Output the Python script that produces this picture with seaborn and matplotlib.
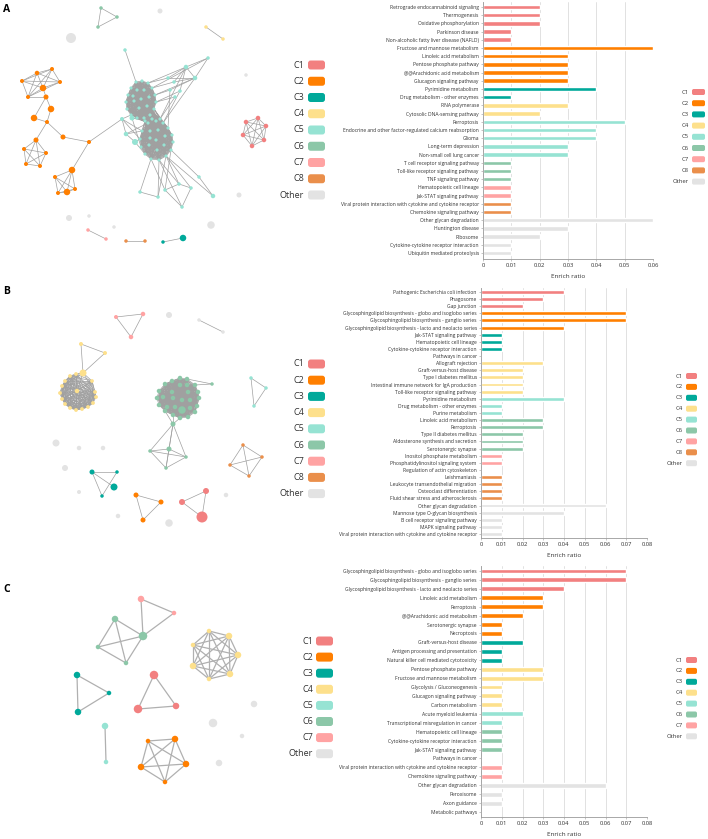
import numpy as np
import pandas as pd
import seaborn as sns
import matplotlib.pyplot as plt
from matplotlib.collections import LineCollection
from matplotlib.patches import FancyBboxPatch
from itertools import combinations

sns.set_theme(style="white")
plt.rcParams['font.family'] = ['Open Sans', 'DejaVu Sans']

W, H = 708, 839

# cluster colours
pal = {'C1': '#F28080', 'C2': '#FF7F00', 'C3': '#00A99A', 'C4': '#FDE08C',
       'C5': '#96E3D3', 'C6': '#8CC7A8', 'C7': '#FFA3A3', 'C8': '#EA8F4B',
       'Other': '#E3E3E3'}

# ---------------- bar chart data ----------------
a_terms = ["Retrograde endocannabinoid signaling", "Thermogenesis", "Oxidative phosphorylation",
           "Parkinson disease", "Non-alcoholic fatty liver disease (NAFLD)",
           "Fructose and mannose metabolism", "Linoleic acid metabolism", "Pentose phosphate pathway",
           "@@Arachidonic acid metabolism", "Glucagon signaling pathway",
           "Pyrimidine metabolism", "Drug metabolism - other enzymes",
           "RNA polymerase", "Cytosolic DNA-sensing pathway",
           "Ferroptosis", "Endocrine and other factor-regulated calcium reabsorption", "Glioma",
           "Long-term depression", "Non-small cell lung cancer",
           "T cell receptor signaling pathway", "Toll-like receptor signaling pathway", "TNF signaling pathway",
           "Hematopoietic cell lineage", "Jak-STAT signaling pathway",
           "Viral protein interaction with cytokine and cytokine receptor", "Chemokine signaling pathway",
           "Other glycan degradation", "Huntington disease", "Ribosome",
           "Cytokine-cytokine receptor interaction", "Ubiquitin mediated proteolysis"]
a_ratio = [0.02, 0.02, 0.02, 0.01, 0.01,
           0.06, 0.03, 0.03, 0.03, 0.03,
           0.04, 0.01,
           0.03, 0.02,
           0.05, 0.04, 0.04, 0.03, 0.03,
           0.01, 0.01, 0.01,
           0.01, 0.01,
           0.01, 0.01,
           0.06, 0.03, 0.02, 0.01, 0.01]
a_cluster = (["C1"] * 5 + ["C2"] * 5 + ["C3"] * 2 + ["C4"] * 2 + ["C5"] * 5
             + ["C6"] * 3 + ["C7"] * 2 + ["C8"] * 2 + ["Other"] * 5)

b_terms = ["Pathogenic Escherichia coli infection", "Phagosome", "Gap junction",
           "Glycosphingolipid biosynthesis - globo and isoglobo series",
           "Glycosphingolipid biosynthesis - ganglio series",
           "Glycosphingolipid biosynthesis - lacto and neolacto series",
           "Jak-STAT signaling pathway", "Hematopoietic cell lineage",
           "Cytokine-cytokine receptor interaction", "Pathways in cancer",
           "Allograft rejection", "Graft-versus-host disease", "Type I diabetes mellitus",
           "Intestinal immune network for IgA production", "Toll-like receptor signaling pathway",
           "Pyrimidine metabolism", "Drug metabolism - other enzymes", "Purine metabolism",
           "Linoleic acid metabolism", "Ferroptosis", "Type II diabetes mellitus",
           "Aldosterone synthesis and secretion", "Serotonergic synapse",
           "Inositol phosphate metabolism", "Phosphatidylinositol signaling system",
           "Regulation of actin cytoskeleton", "Leishmaniasis",
           "Leukocyte transendothelial migration", "Osteoclast differentiation",
           "Fluid shear stress and atherosclerosis",
           "Other glycan degradation", "Mannose type O-glycan biosynthesis",
           "B cell receptor signaling pathway", "MAPK signaling pathway",
           "Viral protein interaction with cytokine and cytokine receptor"]
b_ratio = [0.04, 0.03, 0.02,
           0.07, 0.07, 0.04,
           0.01, 0.01, 0.01, 0.0,
           0.03, 0.02, 0.02, 0.02, 0.02,
           0.04, 0.01, 0.01,
           0.03, 0.03, 0.02, 0.02, 0.02,
           0.01, 0.01,
           0.0, 0.01, 0.01, 0.01, 0.01,
           0.06, 0.04, 0.01, 0.01, 0.01]
b_cluster = (["C1"] * 3 + ["C2"] * 3 + ["C3"] * 4 + ["C4"] * 5 + ["C5"] * 3
             + ["C6"] * 5 + ["C7"] * 2 + ["C8"] * 5 + ["Other"] * 5)

c_terms = ["Glycosphingolipid biosynthesis - globo and isoglobo series",
           "Glycosphingolipid biosynthesis - ganglio series",
           "Glycosphingolipid biosynthesis - lacto and neolacto series",
           "Linoleic acid metabolism", "Ferroptosis", "@@Arachidonic acid metabolism",
           "Serotonergic synapse", "Necroptosis",
           "Graft-versus-host disease", "Antigen processing and presentation",
           "Natural killer cell mediated cytotoxicity",
           "Pentose phosphate pathway", "Fructose and mannose metabolism",
           "Glycolysis / Gluconeogenesis", "Glucagon signaling pathway", "Carbon metabolism",
           "Acute myeloid leukemia", "Transcriptional misregulation in cancer",
           "Hematopoietic cell lineage", "Cytokine-cytokine receptor interaction",
           "Jak-STAT signaling pathway", "Pathways in cancer",
           "Viral protein interaction with cytokine and cytokine receptor",
           "Chemokine signaling pathway",
           "Other glycan degradation", "Peroxisome", "Axon guidance", "Metabolic pathways"]
c_ratio = [0.07, 0.07, 0.04,
           0.03, 0.03, 0.02, 0.01, 0.01,
           0.02, 0.01, 0.01,
           0.03, 0.03, 0.01, 0.01, 0.01,
           0.02, 0.01,
           0.01, 0.01, 0.01, 0.0,
           0.01, 0.01,
           0.06, 0.01, 0.01, 0.0]
c_cluster = (["C1"] * 3 + ["C2"] * 5 + ["C3"] * 3 + ["C4"] * 5 + ["C5"] * 2
             + ["C6"] * 4 + ["C7"] * 2 + ["Other"] * 4)

# ---------------- network data (x, y, node diameter in px) ----------------
# groups: (cluster, fully connected?, nodes)
a_ball1 = [(136, 82), (142, 81), (148, 83), (152, 88), (155, 95), (156, 102), (154, 109),
           (150, 115), (144, 118), (137, 118), (131, 115), (127, 109), (126, 102), (128, 95),
           (131, 88), (137, 90), (144, 90), (149, 97), (141, 99), (134, 101), (139, 108),
           (147, 106), (133, 96)]
a_ball2 = [(145, 121), (152, 119), (160, 119), (148, 123), (156, 121), (163, 123), (168, 128),
           (172, 135), (173, 142), (171, 150), (166, 156), (159, 160), (151, 159), (145, 154),
           (141, 147), (140, 139), (142, 131), (150, 131), (158, 130), (165, 136), (164, 145),
           (157, 150), (149, 145), (156, 140), (150, 138)]
a_groups = [
    ('C2', True, [(37, 73, 4.5), (52, 69, 4), (60, 82, 4), (43, 88, 6.5), (22, 81, 4), (28, 97, 4)]),
    ('C2', False, [(46, 97, 5), (51, 109, 6.5), (34, 118, 6.5), (47, 122, 4), (63, 137, 5), (89, 142, 4)]),
    ('C2', True, [(36, 140, 5), (24, 149, 4), (46, 153, 4), (26, 164, 4), (40, 166, 4)]),
    ('C2', True, [(72, 170, 6.5), (55, 177, 4), (75, 189, 4), (67, 192, 6.5), (58, 193, 4)]),
    ('C5', True, [(x, y, 3.2) for x, y in a_ball1]),
    ('C5', True, [(x, y, 3.2) for x, y in a_ball2]),
    ('C5', False, [(125, 50, 3.5), (208, 58, 3.5), (186, 67, 4.5), (195, 78, 4.5), (168, 78, 3.5),
                   (174, 82, 3.5), (180, 91, 3.5), (170, 90, 3.5), (175, 97, 3.5),
                   (122, 119, 4), (132, 118, 5), (126, 134, 4.5), (135, 142, 6),
                   (140, 192, 3.5), (158, 197, 3.5), (165, 190, 3.5), (179, 184, 3.5),
                   (191, 188, 3.5), (199, 177, 3.5), (182, 207, 3.5), (213, 196, 4.5)]),
    ('C1', True, [(246, 122, 4.5), (258, 118, 4.5), (243, 135, 4.5), (252, 146, 4.5),
                  (264, 140, 4.5), (266, 126, 4.5)]),
    ('C6', True, [(101, 8, 3.5), (117, 17, 3.5), (98, 27, 3.5)]),
    ('C4', True, [(206, 27, 3.5), (223, 39, 3.5)]),
    ('C7', True, [(88, 230, 3.5), (106, 239, 3.5)]),
    ('C8', True, [(126, 241, 3.5), (145, 241, 3.5)]),
    ('C3', True, [(163, 242, 3.5), (183, 238, 6.5)]),
    ('Other', False, [(160, 11, 5), (71, 38, 10), (246, 75, 3.5), (239, 195, 5), (69, 218, 6),
                      (89, 216, 3.5), (114, 227, 3.5), (211, 225, 7.5)]),
]
a_links = [((43, 88), (46, 97)), ((28, 97), (46, 97)), ((46, 97), (51, 109)), ((46, 97), (34, 118)),
           ((34, 118), (47, 122)), ((51, 109), (47, 122)), ((47, 122), (36, 140)),
           ((47, 122), (63, 137)), ((63, 137), (89, 142)), ((89, 142), (72, 170)),
           ((89, 142), (122, 119)), ((125, 50), (136, 82)),
           ((208, 58), (186, 67)), ((208, 58), (195, 78)), ((186, 67), (195, 78)), ((186, 67), (168, 78)),
           ((186, 67), (174, 82)), ((186, 67), (180, 91)), ((195, 78), (174, 82)), ((195, 78), (170, 90)),
           ((195, 78), (168, 78)), ((168, 78), (148, 83)), ((174, 82), (152, 88)), ((170, 90), (155, 95)),
           ((175, 97), (156, 102)), ((180, 91), (156, 102)), ((186, 67), (148, 83)), ((195, 78), (155, 95)),
           ((175, 97), (160, 119)), ((180, 91), (163, 123)), ((170, 90), (168, 128)), ((208, 58), (152, 88)),
           ((195, 78), (163, 123)), ((186, 67), (160, 119)),
           ((122, 119), (142, 131)), ((122, 119), (140, 139)), ((132, 118), (145, 121)),
           ((132, 118), (141, 147)), ((126, 134), (142, 131)), ((126, 134), (148, 123)),
           ((135, 142), (140, 139)), ((135, 142), (145, 154)), ((126, 134), (135, 142)),
           ((122, 119), (126, 134)), ((122, 119), (131, 115)), ((132, 118), (137, 118)),
           ((140, 192), (158, 197)), ((140, 192), (151, 159)), ((158, 197), (159, 160)),
           ((165, 190), (151, 159)), ((165, 190), (179, 184)), ((179, 184), (159, 160)),
           ((179, 184), (166, 156)), ((191, 188), (166, 156)), ((191, 188), (182, 207)),
           ((191, 188), (179, 184)), ((199, 177), (171, 150)), ((199, 177), (213, 196)),
           ((213, 196), (166, 156)), ((182, 207), (165, 190)), ((182, 207), (159, 160)),
           ((165, 190), (171, 150)), ((158, 197), (166, 156))]
# bundle between the two big C5 balls
a_links += [(p, q) for p in a_ball1[6:12] + a_ball1[18:23] for q in a_ball2[:8]]

b_ball_c4 = [(70, 91), (62, 101), (62, 114), (70, 123), (82, 124), (93, 118), (95, 107),
             (92, 96), (83, 88), (76, 89), (65, 96), (60, 108), (65, 119), (76, 125), (88, 122),
             (96, 112), (77, 106)]
b_ball_c6 = [(180, 93), (187, 94), (172, 96), (165, 99), (195, 100), (159, 106), (198, 107),
             (157, 113), (199, 113), (159, 120), (197, 121), (165, 126), (195, 127), (173, 130),
             (188, 132), (180, 133), (172, 107), (180, 100), (188, 107), (163, 112), (173, 113),
             (182, 115), (190, 115), (167, 122), (175, 122), (182, 125), (190, 123), (187, 100)]
b_groups = [
    ('C7', True, [(116, 32, 4), (143, 29, 4.5), (131, 52, 4.5)]),
    ('C4', True, [(81, 59, 4), (105, 68, 4), (83, 88, 7)]),
    ('C4', True, [(x, y, 4.5 if (x, y) == (77, 106) else 3.8) for x, y in b_ball_c4 if (x, y) != (83, 88)]),
    ('C6', True, [(x, y, 7.5 if (x, y) == (182, 125) else 4.5) for x, y in b_ball_c6]),
    ('C6', False, [(212, 99, 3.5), (173, 139, 5)]),
    ('C6', True, [(150, 166, 3.5), (169, 164, 5), (186, 172, 3.5), (166, 183, 3.5)]),
    ('C5', True, [(251, 93, 3.5), (254, 121, 3.5), (266, 103, 3.5)]),
    ('C8', True, [(243, 160, 3.5), (230, 180, 3.5), (249, 191, 3.5), (262, 172, 3.5)]),
    ('C3', False, [(92, 187, 5), (117, 187, 3.5), (114, 202, 7), (102, 211, 3.5)]),
    ('C2', True, [(136, 210, 5), (161, 217, 5), (143, 235, 5)]),
    ('C1', True, [(182, 217, 6), (206, 206, 6), (202, 232, 11)]),
    ('Other', False, [(169, 30, 6), (199, 35, 3.5), (223, 47, 3.5), (56, 158, 7), (79, 163, 4.5),
                      (103, 163, 4.5), (65, 183, 6), (79, 207, 4), (118, 231, 4.5), (169, 238, 7.5),
                      (226, 210, 4.5)]),
]
b_links = [((199, 35), (223, 47)), ((83, 88), (70, 91)), ((83, 88), (92, 96)), ((83, 88), (77, 106)),
           ((83, 88), (95, 107)), ((83, 88), (62, 101)), ((83, 88), (76, 89)),
           ((212, 99), (187, 94)), ((212, 99), (195, 100)),
           ((173, 139), (173, 130)), ((173, 139), (180, 133)), ((173, 139), (165, 126)),
           ((173, 139), (150, 166)), ((173, 139), (169, 164)), ((173, 139), (186, 172)),
           ((173, 139), (166, 183)),
           ((92, 187), (117, 187)), ((92, 187), (102, 211)), ((117, 187), (102, 211)),
           ((92, 187), (114, 202))]

c_groups = [
    ('C7', True, [(141, 34, 6.5), (174, 48, 4.5)]),
    ('C6', True, [(115, 54, 6.5), (143, 71, 8.5), (98, 82, 4.5), (126, 98, 4.5)]),
    ('C4', True, [(209, 66, 4.5), (229, 71, 6.5), (238, 90, 6.5), (230, 109, 6.5), (209, 114, 4.5),
                  (193, 101, 6.5), (193, 80, 4.5)]),
    ('C3', True, [(77, 110, 6.5), (109, 128, 4.5), (78, 147, 6.5)]),
    ('C1', True, [(154, 110, 8.5), (138, 144, 8.5), (176, 141, 6.5)]),
    ('C5', True, [(105, 161, 6.5), (106, 197, 4.5)]),
    ('C2', True, [(148, 176, 4.5), (175, 174, 6.5), (186, 199, 6.5), (165, 217, 4.5), (141, 202, 6.5)]),
    ('Other', False, [(254, 139, 6.5), (213, 158, 8.5), (242, 171, 4.5), (219, 198, 6.5)]),
]
c_links = [((141, 34), (143, 71)), ((174, 48), (143, 71))]

fig = plt.figure(figsize=(W / 100, H / 100), dpi=100)

# overlay axes in pixel coordinates for networks, legends and panel letters
ov = fig.add_axes([0, 0, 1, 1])
ov.set_xlim(0, W)
ov.set_ylim(H, 0)
ov.axis('off')


def draw_network(groups, links, y0, lw=0.5, ec='#a9a9a9'):
    segs = []
    rows = []
    for cl, full, nodes in groups:
        for x, y, d in nodes:
            rows.append((x, y + y0, d, cl))
        if full:
            for p, q in combinations(nodes, 2):
                segs.append([(p[0], p[1] + y0), (q[0], q[1] + y0)])
    for p, q in links:
        segs.append([(p[0], p[1] + y0), (q[0], q[1] + y0)])
    ov.add_collection(LineCollection(segs, colors=ec, linewidths=lw, zorder=1))
    nd = pd.DataFrame(rows, columns=['x', 'y', 'd', 'cluster'])
    sns.scatterplot(data=nd, x='x', y='y', hue='cluster', palette=pal,
                    s=(nd['d'] * 0.72) ** 2, linewidth=0, legend=False, ax=ov, zorder=2)
    ov.set_xlim(0, W)
    ov.set_ylim(H, 0)
    ov.axis('off')


draw_network(a_groups, a_links, 0, lw=0.5, ec='#a0a0a0')
draw_network(b_groups, b_links, 285, lw=0.5, ec='#a0a0a0')
draw_network(c_groups, c_links, 565, lw=0.9, ec='#b0b0b0')


def draw_legend(labels, xt, xb, bw, bh, y_first, step, fs):
    for i, lab in enumerate(labels):
        y = y_first + step * i
        ov.text(xt, y, lab, ha='right', va='center', fontsize=fs, color='#333333')
        ov.add_patch(FancyBboxPatch((xb, y - bh / 2), bw, bh,
                                    boxstyle=f"round,pad=0,rounding_size={bh * 0.3}",
                                    fc=pal[lab], ec='none'))


lab8 = ['C1', 'C2', 'C3', 'C4', 'C5', 'C6', 'C7', 'C8', 'Other']
lab7 = ['C1', 'C2', 'C3', 'C4', 'C5', 'C6', 'C7', 'Other']
# network legends
draw_legend(lab8, 304, 308, 17, 9, 65, 16.25, 6.5)
draw_legend(lab8, 304, 308, 17, 9, 364, 16.2, 6.5)
draw_legend(lab7, 313, 316, 17, 9, 641, 16.1, 6.5)
# bar chart legends
draw_legend(lab8, 689, 692, 13, 6, 92, 11.2, 4.2)
draw_legend(lab8, 683, 686, 11, 6, 376, 10.9, 4.2)
draw_legend(lab7, 683, 686, 11, 6, 660, 10.9, 4.2)

for letter, y in [('A', 9), ('B', 292), ('C', 590)]:
    ov.text(3, y, letter, fontsize=7.5, fontweight='bold', ha='left', va='center', color='black')


def draw_bars(l, t, r, b, terms, ratio, clus, xmax, ylim):
    ax = fig.add_axes([l / W, 1 - b / H, (r - l) / W, (b - t) / H])
    df = pd.DataFrame({'term': terms, 'ratio': ratio, 'cluster': clus})
    sns.barplot(data=df, x='ratio', y='term', hue='cluster', palette=pal, dodge=False,
                width=0.55, saturation=1, legend=False, ax=ax, orient='h')
    ticks = np.round(np.arange(0, xmax + 1e-9, 0.01), 2)
    ax.set_xticks(ticks)
    ax.set_xticklabels([f'{v:g}' for v in ticks])
    ax.set_xlim(0, xmax)
    ax.set_ylim(*ylim)
    ax.set_ylabel('')
    ax.set_xlabel('Enrich ratio', fontsize=4.6, color='#333333', labelpad=4)
    ax.xaxis.grid(True, color='#dcdcdc', lw=0.6)
    ax.yaxis.grid(False)
    ax.set_axisbelow(True)
    for s in ['top', 'right']:
        ax.spines[s].set_visible(False)
    for s in ['left', 'bottom']:
        ax.spines[s].set_color('#9a9a9a')
        ax.spines[s].set_linewidth(0.6)
    ax.tick_params(axis='y', labelsize=3.6, length=1.5, width=0.4, pad=1.5, colors='#9a9a9a',
                   labelcolor='#333333', left=True)
    ax.tick_params(axis='x', labelsize=4.2, length=1.5, width=0.4, pad=1.5, colors='#9a9a9a',
                   labelcolor='#333333', bottom=True)
    ax.patch.set_alpha(0)
    return ax


draw_bars(483, 2, 653, 259, a_terms, a_ratio, a_cluster, 0.06, (30.73, -0.6))
draw_bars(481, 287.7, 647, 538, b_terms, b_ratio, b_cluster, 0.08, (34.56, -0.6))
draw_bars(481, 565.6, 647, 817, c_terms, c_ratio, c_cluster, 0.08, (27.56, -0.6))

fig.savefig('out.png', dpi=100)
